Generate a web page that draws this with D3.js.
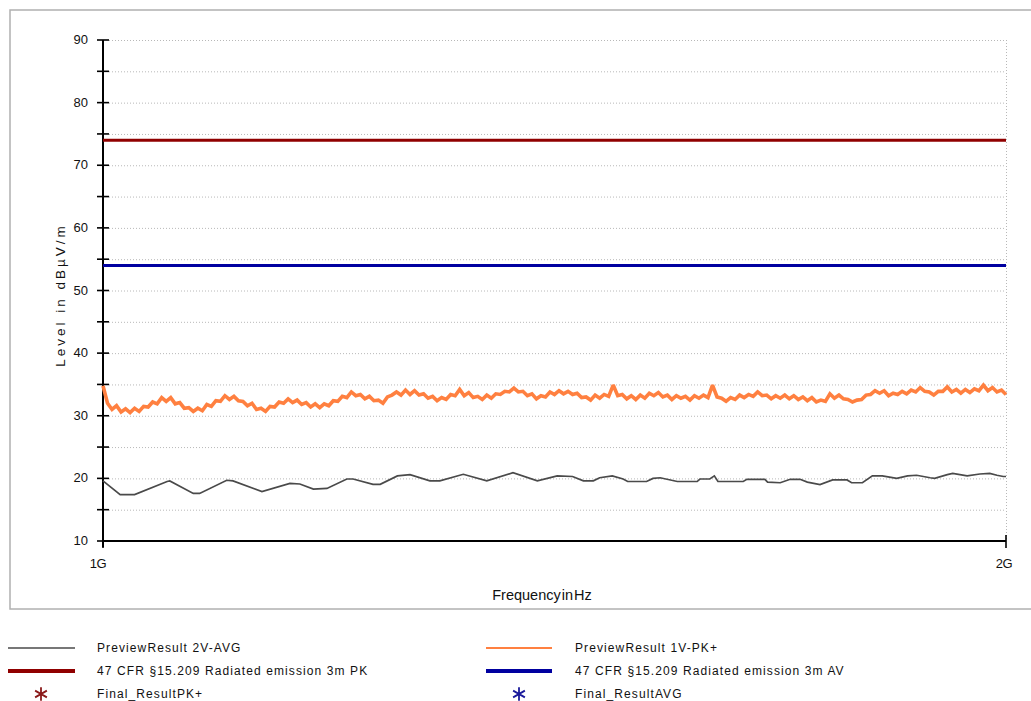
<!DOCTYPE html>
<html><head><meta charset="utf-8">
<script src="https://cdn.jsdelivr.net/npm/d3@7"></script>
<style>
body{margin:0;background:#fff;}
svg{display:block;font-family:"Liberation Sans",Arial,sans-serif;}
</style></head>
<body>
<svg id="c" width="1031" height="701"></svg>
<script>
// ---------- data ----------
const yTicks = [10,20,30,40,50,60,70,80,90];
const yMinor = [15,25,35,45,55,65,75,85];
const xTickValues = [1000, 2000];          // MHz
const xTickLabels = ["1G", "2G"];
const limitPK = 74;   // 47 CFR §15.209 3m PK
const limitAV = 54;   // 47 CFR §15.209 3m AV

// PreviewResult 2V-AVG : [MHz, dBµV/m]
const avgFreq = [1000,1019,1035,1071,1074,1100,1107,1137,1144,1176,1207,1218,1233,1248,1270,1277,1299,1307,1326,1340,
  1362,1373,1399,1425,1454,1481,1503,1520,1532,1543,1550,1564,1576,1581,1602,1609,1617,1636,1658,1661,
  1672,1677,1681,1709,1713,1733,1736,1750,1761,1772,1780,1794,1808,1824,1829,1841,1852,1863,1879,1891,
  1901,1916,1921,1935,1941,1957,1971,1982,1990,1997,2000];
const avgLevel = [19.6,17.4,17.4,19.5,19.6,17.6,17.6,19.7,19.6,17.9,19.2,19.1,18.3,18.4,19.9,19.9,19.05,19.05,20.4,20.6,
  19.6,19.6,20.65,19.6,20.9,19.6,20.4,20.3,19.6,19.6,20.1,20.4,19.9,19.5,19.5,20.0,20.1,19.5,19.5,19.9,
  19.9,20.4,19.5,19.5,19.85,19.85,19.4,19.3,19.85,19.85,19.4,19.0,19.75,19.75,19.3,19.3,20.4,20.4,20.0,20.4,
  20.5,20.1,20.0,20.6,20.8,20.4,20.7,20.8,20.5,20.3,20.3];

// PreviewResult 1V-PK+ : sweep from 1000 MHz in 5 MHz steps
const pkStartMHz = 1000, pkStepMHz = 5;
const pkLevel = [
  34.8,32.0,31.0,31.6,30.6,31.1,30.5,31.2,30.7,31.5,
  31.4,32.2,31.9,32.9,32.3,32.9,31.9,32.1,31.2,31.3,
  30.7,31.2,30.8,31.8,31.5,32.4,32.3,33.2,32.6,33.1,
  32.4,32.3,31.6,32.0,31.0,31.2,30.7,31.5,31.4,32.2,
  32.0,32.7,32.1,32.5,31.8,32.1,31.4,31.9,31.3,31.9,
  31.6,32.4,32.3,33.1,32.9,33.8,33.2,33.4,32.7,33.1,
  32.4,32.5,32.0,33.0,33.3,33.8,33.3,34.1,33.4,34.0,
  33.3,33.5,32.8,33.1,32.4,32.9,32.6,33.4,33.2,34.2,
  33.2,33.7,32.9,33.1,32.6,33.3,32.8,33.5,33.4,33.9,
  33.8,34.4,33.8,33.9,33.2,33.5,32.7,33.2,33.0,33.8,
  33.4,34.0,33.5,33.9,33.4,33.6,32.9,33.0,32.5,33.3,
  32.8,33.4,33.1,34.9,33.2,33.4,32.7,33.2,32.6,33.3,
  32.8,33.6,33.2,33.7,33.0,33.3,32.6,33.2,32.8,33.1,
  32.5,33.2,32.8,33.3,32.9,34.9,33.0,32.8,32.3,32.9,
  32.6,33.3,32.9,33.4,33.1,33.8,33.2,33.3,32.7,33.2,
  32.8,33.3,32.7,33.2,32.6,33.0,32.4,32.9,32.2,32.5,
  32.3,33.5,32.8,33.3,32.7,32.6,32.2,32.5,32.6,33.3,
  33.4,34.0,33.6,34.0,33.2,33.6,33.4,33.9,33.5,34.1,
  33.8,34.5,33.9,33.8,33.3,33.9,33.9,34.6,33.8,34.2,
  33.6,34.2,33.7,34.3,34.0,34.9,34.0,34.5,33.8,34.1,
  33.4];

const legendItems = [
  {label:"PreviewResult 2V-AVG", type:"line", color:"#4a4a4a", w:1.5},
  {label:"PreviewResult 1V-PK+", type:"line", color:"#ff8040", w:2},
  {label:"47 CFR §15.209 Radiated emission 3m PK", type:"line", color:"#900000", w:4},
  {label:"47 CFR §15.209 Radiated emission 3m AV", type:"line", color:"#0000a0", w:4},
  {label:"Final_ResultPK+", type:"star", color:"#8b1a1a"},
  {label:"Final_ResultAVG", type:"star", color:"#1a1a9b"}
];

// ---------- drawing ----------
const svg = d3.select("#c");
const L = 103, R = 1006, T = 40, B = 541;
const x = d3.scaleLinear().domain([1000, 2000]).range([L, R]);
const y = d3.scaleLinear().domain([10, 90]).range([B, T]);

// outer frame
svg.append("rect").attr("x",10).attr("y",10).attr("width",1030).attr("height",599)
  .attr("fill","#fff").attr("stroke","#b0b0b0").attr("stroke-width",1.5);

// grid
const g = svg.append("g");
g.selectAll("line.hg").data(yTicks.concat(yMinor)).join("line")
  .attr("x1",L+6).attr("x2",R).attr("y1",d=>y(d)+0.5).attr("y2",d=>y(d)+0.5)
  .attr("stroke","#b8b8b8").attr("stroke-width",1).attr("stroke-dasharray","1,2");
g.append("line").attr("x1",x(2000)+0.5).attr("x2",x(2000)+0.5).attr("y1",T).attr("y2",B)
  .attr("stroke","#b8b8b8").attr("stroke-dasharray","1,2");

// y axis
const yAxis = d3.axisLeft(y).tickValues(yTicks.concat(yMinor)).tickSize(0).tickFormat("");
const ya = svg.append("g").attr("transform",`translate(${L},0)`).call(yAxis);
ya.select(".domain").remove();
svg.append("line").attr("x1",L).attr("x2",L).attr("y1",T).attr("y2",B+6)
  .attr("stroke","#000").attr("stroke-width",2);
svg.selectAll("line.yt").data(yTicks.concat(yMinor)).join("line").attr("class","yt")
  .attr("x1",L-6).attr("x2",L+6).attr("y1",d=>y(d)).attr("y2",d=>y(d))
  .attr("stroke","#000").attr("stroke-width",1.6);
svg.selectAll("text.yl").data(yTicks).join("text").attr("class","yl")
  .attr("x",88).attr("y",d=>y(d)+4).attr("text-anchor","end")
  .attr("font-size",13).attr("fill","#111").text(d=>d);

// x axis
const xAxis = d3.axisBottom(x).tickValues(xTickValues).tickSize(0).tickFormat("");
svg.append("g").attr("transform",`translate(0,${B})`).call(xAxis).select(".domain").remove();
svg.append("line").attr("x1",L).attr("x2",R).attr("y1",B).attr("y2",B)
  .attr("stroke","#000").attr("stroke-width",2);
svg.selectAll("line.xt").data(xTickValues).join("line").attr("class","xt")
  .attr("x1",d=>x(d)).attr("x2",d=>x(d)).attr("y1",(d,i)=>i? B-6:B).attr("y2",B+7)
  .attr("stroke","#000").attr("stroke-width",1.6);
svg.selectAll("text.xl").data(xTickValues).join("text").attr("class","xl")
  .attr("x",(d,i)=>x(d)-(i?2:5)).attr("y",568).attr("text-anchor","middle")
  .attr("font-size",13).attr("fill","#111").attr("letter-spacing","-0.5").text((d,i)=>xTickLabels[i]);

// axis titles
svg.append("text").attr("transform","translate(65,295) rotate(-90)").attr("text-anchor","middle")
  .attr("font-size",13.5).attr("letter-spacing","3").attr("fill","#111").text("Level in dBµV/m");
svg.append("text").attr("x",542).attr("y",600).attr("text-anchor","middle")
  .attr("font-size",14.5).attr("letter-spacing","0").attr("word-spacing","-3").attr("fill","#111").text("Frequency in Hz");

// limit lines
svg.append("line").attr("x1",x(1000)).attr("x2",x(2000)).attr("y1",y(limitPK)).attr("y2",y(limitPK))
  .attr("stroke","#900000").attr("stroke-width",3);
svg.append("line").attr("x1",x(1000)).attr("x2",x(2000)).attr("y1",y(limitAV)).attr("y2",y(limitAV))
  .attr("stroke","#0000a0").attr("stroke-width",3);

// PK trace
const pkData = pkLevel.map((v,i)=>[pkStartMHz + i*pkStepMHz, v]);
const line = d3.line().x(d=>x(d[0])).y(d=>y(d[1]));
svg.append("path").datum(pkData).attr("d",line).attr("fill","none")
  .attr("stroke","#ff8040").attr("stroke-width",3.6).attr("stroke-linejoin","miter").attr("stroke-miterlimit",2);

// AVG trace
const avgData = avgFreq.map((f,i)=>[f, avgLevel[i]]);
svg.append("path").datum(avgData).attr("d",line).attr("fill","none")
  .attr("stroke","#4a4a4a").attr("stroke-width",1.7);

// legend
const cols = [{lx1:8, lx2:75, tx:97, sx:41}, {lx1:486, lx2:552, tx:575, sx:519}];
const rowsY = [648, 671, 694];
legendItems.forEach((it,i)=>{
  const c = cols[i%2], ry = rowsY[Math.floor(i/2)];
  if(it.type==="line"){
    svg.append("line").attr("x1",c.lx1).attr("x2",c.lx2).attr("y1",ry).attr("y2",ry)
      .attr("stroke",it.color).attr("stroke-width",it.w);
  } else {
    svg.append("path").attr("d",d3.symbol(d3.symbolAsterisk,130)())
      .attr("transform",`translate(${c.sx},${ry})`).attr("fill","none")
      .attr("stroke",it.color).attr("stroke-width",1.8);
  }
  svg.append("text").attr("x",c.tx).attr("y",ry+4).attr("font-size",12)
    .attr("letter-spacing","1.1").attr("fill","#111").text(it.label);
});
</script>
</body></html>
